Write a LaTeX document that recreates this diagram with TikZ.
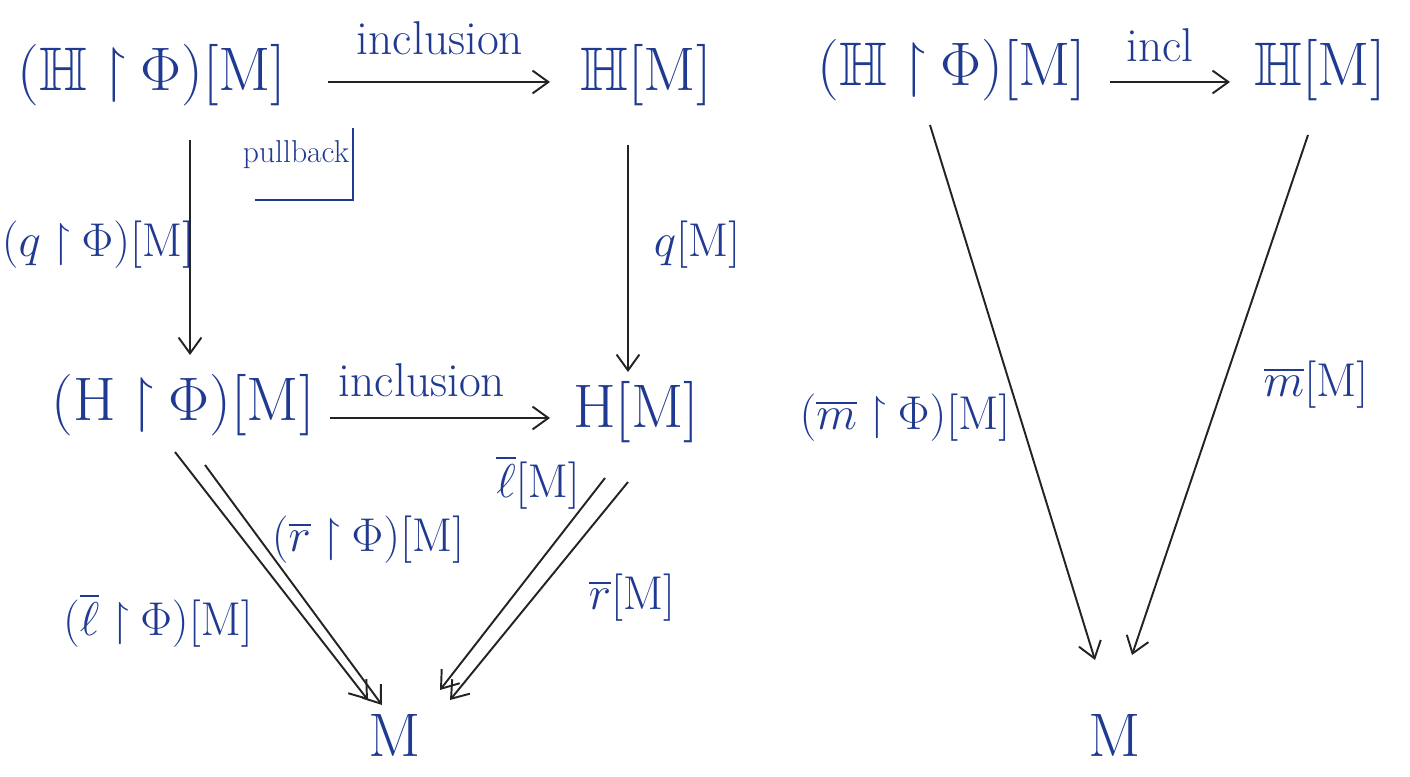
\RequirePackage{fix-cm}
\documentclass[tikz,border=0pt]{standalone}
\usepackage{amssymb}
\DeclareFontFamily{U}{msa}{}
\DeclareFontShape{U}{msa}{m}{n}{<-6>msam5<6-8>msam7<8->msam10}{}
\DeclareFontFamily{U}{msb}{}
\DeclareFontShape{U}{msb}{m}{n}{<-6>msbm5<6-8>msbm7<8->msbm10}{}
\usetikzlibrary{arrows.meta,calc}
\definecolor{ink}{RGB}{32,58,145}
\definecolor{pencil}{RGB}{35,35,35}
\newcommand{\bigsz}{\fontsize{35}{42}\selectfont}
\newcommand{\labsz}{\fontsize{27}{32}\selectfont}
\newcommand{\rs}{\mathbin{\upharpoonright}}
\begin{document}
\begin{tikzpicture}[x=0.02cm,y=-0.02cm,
  obj/.style={text=ink,inner sep=0pt,font=\bigsz},
  lab/.style={text=ink,inner sep=0pt,font=\labsz},
  arr/.style={draw=pencil,line width=1.1pt,-{Straight Barb[length=9pt,width=13pt,line width=1.1pt]}}]
\useasboundingbox (0,0) rectangle (1410,777);
% left diagram
\node[obj] (A) at (152,75) {$(\mathbb{H}\rs\Phi)[\mathrm{M}]$};
\node[obj] (B) at (646,75) {$\mathbb{H}[\mathrm{M}]$};
\node[obj] (C) at (183,405) {$(\mathrm{H}\rs\Phi)[\mathrm{M}]$};
\node[obj] (D) at (636,412) {$\mathrm{H}[\mathrm{M}]$};
\node[obj] (E) at (395,735) {$\mathrm{M}$};
% right diagram
\node[obj] (F) at (952,70) {$(\mathbb{H}\rs\Phi)[\mathrm{M}]$};
\node[obj] (G) at (1320,70) {$\mathbb{H}[\mathrm{M}]$};
\node[obj] (H) at (1115,735) {$\mathrm{M}$};
% arrows left
\draw[arr] ($(A)+(176,7)$) -- ($(B)+(-96,7)$);
\draw[arr] ($(C)+(147,13)$) -- ($(D)+(-86,6)$);
\draw[arr] ($(A)+(38,65)$) -- ($(C)+(7,-50)$);
\draw[arr] ($(B)+(-18,70)$) -- ($(D)+(-8,-40)$);
\draw[arr] ($(C)+(-8,47)$) -- ($(E)+(-27,-35)$);
\draw[arr] ($(C)+(22,60)$) -- ($(E)+(-13,-30)$);
\draw[arr] ($(D)+(-31,66)$) -- ($(E)+(45,-45)$);
\draw[arr] ($(D)+(-8,70)$) -- ($(E)+(55,-35)$);
% arrows right
\draw[arr] ($(F)+(158,12)$) -- ($(G)+(-90,12)$);
\draw[arr] ($(F)+(-22,55)$) -- ($(H)+(-20,-75)$);
\draw[arr] ($(G)+(-12,65)$) -- ($(H)+(17,-80)$);
% labels left
\node[lab] (l1) at (440,38) {inclusion};
\node[lab] (l2) at (422,380) {inclusion};
\node[lab] (l3) at (98,245) {$(q\rs\Phi)[\mathrm{M}]$};
\node[lab] (l4) at (697,245) {$q[\mathrm{M}]$};
\node[lab] (l5) at (158,620) {$(\overline{\ell}\rs\Phi)[\mathrm{M}]$};
\node[lab] (l6) at (368,540) {$(\overline{r}\rs\Phi)[\mathrm{M}]$};
\node[lab] (l7) at (538,482) {$\overline{\ell}[\mathrm{M}]$};
\node[lab] (l8) at (632,598) {$\overline{r}[\mathrm{M}]$};
\node[lab,font=\fontsize{18}{22}\selectfont] (pb) at (296,155) {pullback};
\draw[ink,line width=1.1pt] (255,200) -- (353,200) -- (353,128);
% labels right
\node[lab] (r1) at (1160,45) {incl};
\node[lab] (r2) at (905,418) {$(\overline{m}\rs\Phi)[\mathrm{M}]$};
\node[lab] (r3) at (1316,385) {$\overline{m}[\mathrm{M}]$};
\end{tikzpicture}
\end{document}
